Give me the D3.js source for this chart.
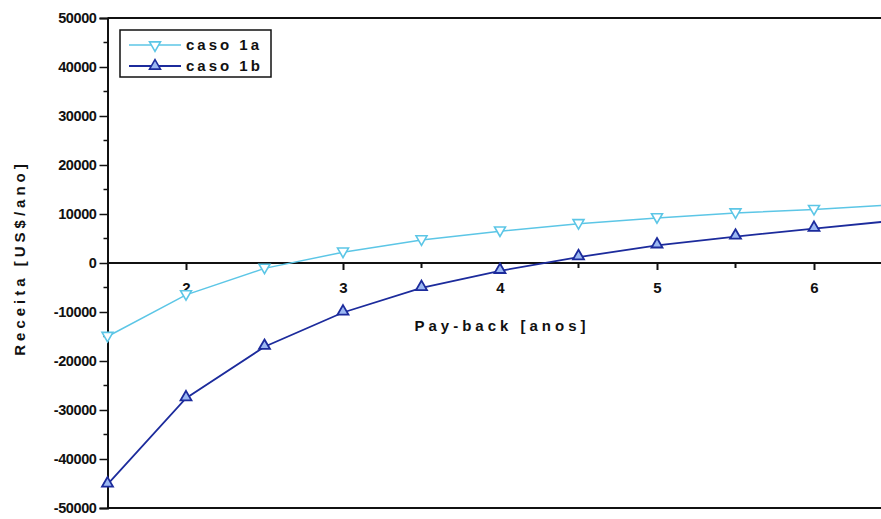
<!DOCTYPE html>
<html>
<head>
<meta charset="utf-8">
<script src="https://cdnjs.cloudflare.com/ajax/libs/d3/7.8.5/d3.min.js"></script>
<style>
  body { margin: 0; background: #fff; }
  svg { display: block; }
  text { font-family: Arial, "Liberation Sans", sans-serif; }
</style>
</head>
<body>
<div id="chart-area"></div>
<script>
// DATA
var paybackYears = [1.5, 2, 2.5, 3, 3.5, 4, 4.5, 5, 5.5, 6, 6.5];
var caso1a = [-15000, -6500, -1100, 2200, 4700, 6500, 8000, 9200, 10200, 10900, 11900];
var caso1b = [-45200, -27600, -17100, -10100, -5100, -1600, 1200, 3600, 5400, 7000, 8600];
var seriesNames = ["caso 1a", "caso 1b"];
var xTicks = [2, 3, 4, 5, 6];
var yTicks = [-50000, -40000, -30000, -20000, -10000, 0, 10000, 20000, 30000, 40000, 50000];

var W = 881, H = 519;
var plotLeft = 107.5, plotTop = 18, plotBottom = 508;
var unit = 157; // px per year

var svg = d3.select("#chart-area")
    .append("svg")
    .attr("width", W)
    .attr("height", H);

// SCALES
var x = d3.scaleLinear().domain([1.5, 7]).range([plotLeft, plotLeft + 5.5 * unit]);
var y = d3.scaleLinear().domain([-50000, 50000]).range([plotBottom, plotTop]);

var cLight = "#5cc6e6", cDark = "#1c2b9c";

// frame: top and bottom lines
svg.append("line").attr("x1", plotLeft).attr("x2", W + 5).attr("y1", plotTop).attr("y2", plotTop)
    .attr("stroke", "#111").attr("stroke-width", 2);
svg.append("line").attr("x1", plotLeft).attr("x2", W + 5).attr("y1", plotBottom).attr("y2", plotBottom)
    .attr("stroke", "#111").attr("stroke-width", 2);

// Y axis
var yAxis = d3.axisLeft(y).tickValues(yTicks).tickSize(8).tickPadding(3)
    .tickFormat(function (d) { return (d < 0 ? "-" : "") + Math.abs(d); });
var yG = svg.append("g").attr("transform", "translate(" + plotLeft + ",0)").call(yAxis);
yG.select(".domain").attr("stroke", "#111").attr("stroke-width", 2);
yG.selectAll(".tick line").attr("stroke", "#111").attr("stroke-width", 1.5);
yG.selectAll(".tick text")
    .attr("font-size", "14.5px").attr("font-weight", "bold").attr("fill", "#111")
    .attr("letter-spacing", "-0.4px");
// minor y ticks
var yMinor = d3.range(-45000, 50000, 10000);
svg.append("g").selectAll("line").data(yMinor).enter().append("line")
    .attr("x1", plotLeft - 4).attr("x2", plotLeft)
    .attr("y1", function (d) { return y(d); }).attr("y2", function (d) { return y(d); })
    .attr("stroke", "#111").attr("stroke-width", 1.5);

// X axis at y = 0
var xAxis = d3.axisBottom(x).tickValues(xTicks).tickSize(7).tickPadding(12).tickFormat(d3.format("d"));
var xG = svg.append("g").attr("transform", "translate(0," + y(0) + ")").call(xAxis);
xG.select(".domain").remove();
xG.selectAll(".tick line").attr("stroke", "#111").attr("stroke-width", 2);
xG.selectAll(".tick text").attr("font-size", "15px").attr("font-weight", "bold").attr("fill", "#111");
svg.append("line").attr("x1", plotLeft).attr("x2", W + 5).attr("y1", y(0)).attr("y2", y(0))
    .attr("stroke", "#111").attr("stroke-width", 2);
var xMinor = [2.5, 3.5, 4.5, 5.5, 6.5];
svg.append("g").selectAll("line").data(xMinor).enter().append("line")
    .attr("x1", function (d) { return x(d); }).attr("x2", function (d) { return x(d); })
    .attr("y1", y(0)).attr("y2", y(0) + 5)
    .attr("stroke", "#111").attr("stroke-width", 2);

// axis labels
svg.append("text")
    .attr("x", 502).attr("y", 331)
    .attr("text-anchor", "middle")
    .attr("font-size", "15px").attr("font-weight", "bold")
    .attr("letter-spacing", "4px")
    .attr("fill", "#111")
    .text("Pay-back [anos]");

svg.append("text")
    .attr("transform", "translate(25,258) rotate(-90)")
    .attr("text-anchor", "middle")
    .attr("font-size", "15px").attr("font-weight", "bold")
    .attr("letter-spacing", "4px")
    .attr("fill", "#111")
    .text("Receita [US$/ano]");

// LINES
var line = d3.line()
    .x(function (d) { return x(d[0]); })
    .y(function (d) { return y(d[1]); });

var dataA = paybackYears.map(function (v, i) { return [v, caso1a[i]]; });
var dataB = paybackYears.map(function (v, i) { return [v, caso1b[i]]; });

var symTri = d3.symbol().type(d3.symbolTriangle).size(52);

svg.append("path").datum(dataA).attr("d", line)
    .attr("fill", "none").attr("stroke", cLight).attr("stroke-width", 1.5);
svg.append("g").selectAll("path").data(dataA).enter().append("path")
    .attr("d", symTri)
    .attr("transform", function (d) { return "translate(" + x(d[0]) + "," + (y(d[1]) - 1) + ") rotate(180)"; })
    .attr("fill", "#fff").attr("stroke", cLight).attr("stroke-width", 1.6);

svg.append("path").datum(dataB).attr("d", line)
    .attr("fill", "none").attr("stroke", cDark).attr("stroke-width", 1.8);
svg.append("g").selectAll("path").data(dataB).enter().append("path")
    .attr("d", symTri)
    .attr("transform", function (d) { return "translate(" + x(d[0]) + "," + (y(d[1]) - 1) + ")"; })
    .attr("fill", "#9cb8f2").attr("stroke", cDark).attr("stroke-width", 1.8);

// LEGEND
var lg = svg.append("g");
lg.append("rect").attr("x", 120).attr("y", 30).attr("width", 151).attr("height", 47)
    .attr("fill", "#fff").attr("stroke", "#111").attr("stroke-width", 1.5);
var legColors = [cLight, cDark];
seriesNames.forEach(function (name, i) {
    var yy = 45 + i * 21;
    lg.append("line").attr("x1", 129).attr("x2", 181).attr("y1", yy).attr("y2", yy)
        .attr("stroke", legColors[i]).attr("stroke-width", i ? 1.8 : 1.5);
    lg.append("path").attr("d", symTri)
        .attr("transform", "translate(155," + yy + ")" + (i ? "" : " rotate(180)"))
        .attr("fill", i ? "#9cb8f2" : "#fff")
        .attr("stroke", legColors[i]).attr("stroke-width", 1.6);
    lg.append("text").attr("x", 186).attr("y", yy + 5)
        .attr("font-size", "15px").attr("font-weight", "bold")
        .attr("letter-spacing", "3px").attr("fill", "#111")
        .text(name);
});
</script>
</body>
</html>
